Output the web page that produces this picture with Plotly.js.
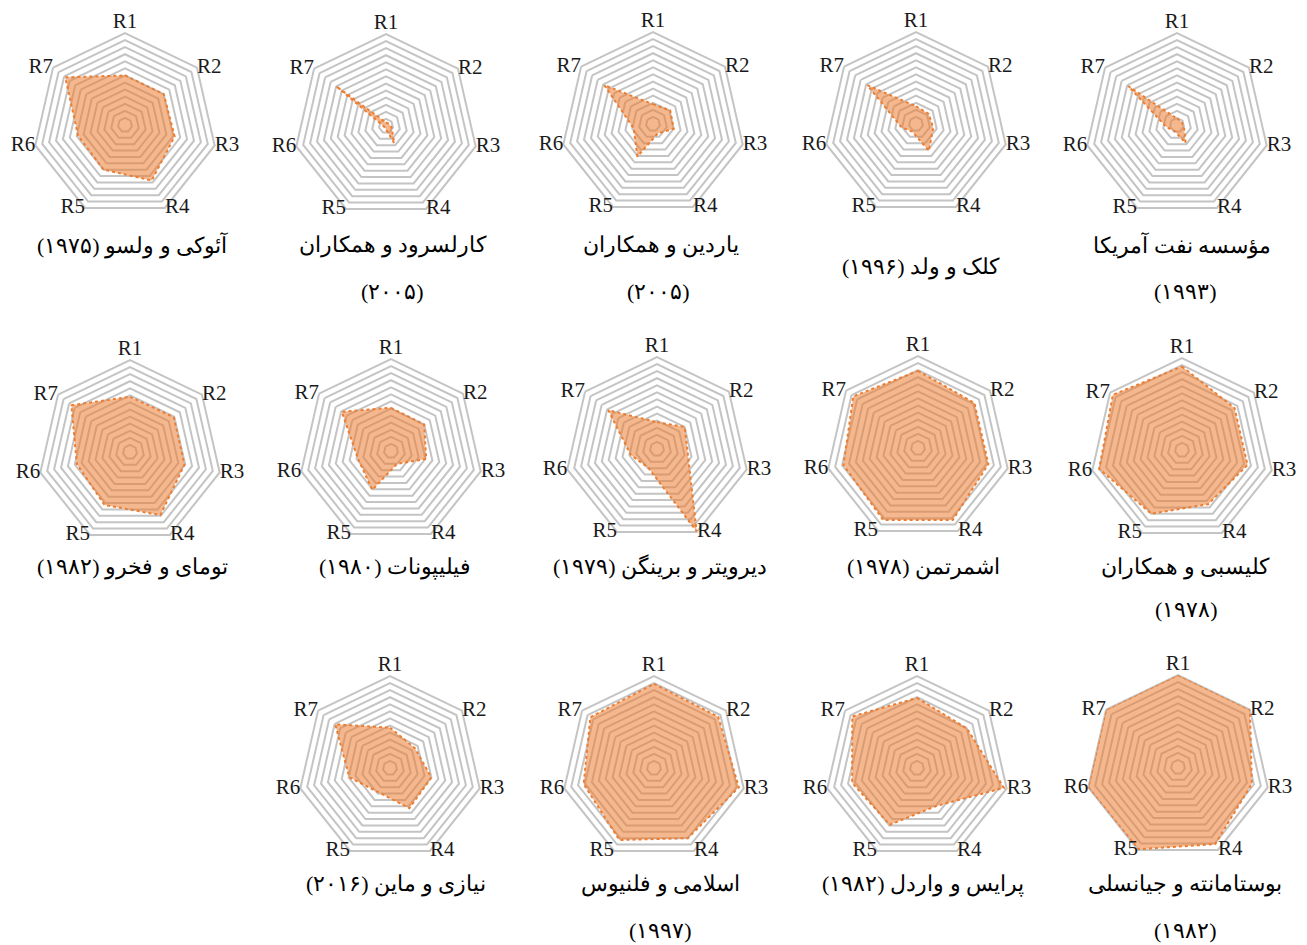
<!DOCTYPE html>
<html>
<head>
<meta charset="utf-8">
<script src="https://cdn.plot.ly/plotly-3.0.1.min.js"></script>
<style>html,body{margin:0;padding:0;background:#fff;}#chart{width:1307px;height:945px;}</style>
</head>
<body>
<div id="chart"></div>
<script>
// ---- data ----
const axesLabels = ['R1','R2','R3','R4','R5','R6','R7'];

const aoki       = [7.0, 7.0, 7.2, 8.7, 7.0, 6.8, 10.8];
const karlsrud   = [0.5, 0.5, 0.8, 2.7, 0.3, 0.3, 9.0];
const yardin     = [2.8, 3.1, 3.0, 1.5, 5.1, 2.8, 8.8];
const kalk       = [2.5, 2.3, 2.5, 4.2, 1.2, 2.1, 8.8];
const api        = [0.9, 0.8, 1.0, 2.8, 0.9, 1.5, 8.8];
const tomai      = [7.8, 7.9, 7.9, 9.9, 8.3, 7.7, 10.6];
const filip      = [6.1, 6.0, 5.1, 2.0, 6.1, 4.8, 8.9];
const deruyter   = [3.8, 5.0, 4.5, 12.9, 2.9, 3.8, 8.8];
const schmert    = [10.9, 10.2, 10.2, 11.3, 11.3, 10.8, 11.7];
const clisby     = [11.8, 9.5, 9.5, 8.5, 10.0, 12.0, 12.5];
const niazi      = [5.7, 4.5, 6.0, 6.3, 3.8, 5.9, 9.9];
const eslami     = [11.9, 11.6, 12.3, 11.0, 11.3, 10.2, 11.5];
const price      = [9.9, 9.0, 12.6, 6.0, 8.9, 9.4, 11.7];
const bustamante = [13.0, 13.0, 10.7, 12.1, 12.9, 13.0, 13.0];

const seriesList = [aoki, karlsrud, yardin, kalk, api,
                    tomai, filip, deruyter, schmert, clisby,
                    niazi, eslami, price, bustamante];

const titleLines = [
  ['آئوکی و ولسو (۱۹۷۵)'],
  ['کارلسرود و همکاران', '(۲۰۰۵)'],
  ['یاردین و همکاران', '(۲۰۰۵)'],
  ['کلک و ولد (۱۹۹۶)'],
  ['مؤسسه نفت آمریکا', '(۱۹۹۳)'],
  ['تومای و فخرو (۱۹۸۲)'],
  ['فیلیپونات (۱۹۸۰)'],
  ['دیرویتر و برینگن (۱۹۷۹)'],
  ['اشمرتمن (۱۹۷۸)'],
  ['کلیسبی و همکاران', '(۱۹۷۸)'],
  ['نیازی و ماین (۲۰۱۶)'],
  ['اسلامی و فلنیوس', '(۱۹۹۷)'],
  ['پرایس و واردل (۱۹۸۲)'],
  ['بوستامانته و جیانسلی', '(۱۹۸۲)']
];
const ringVals = [1,2,3,4,5,6,7,8,9,10,11,12,13];
const axisMax = 13;

// ---- layout geometry (pixels) ----
const W = 1307, H = 945, RAD = 92;
const centers = [
  [125,125],[386,126],[653,124],[916,124],[1177,125],
  [130,452],[391,451],[657,449],[918,448],[1182,450],
  [390,768],[654,768],[917,768],[1178,767]
];
const titlePos = [
  [[132,245]],
  [[393,245],[392,291]],
  [[661,245],[658,291]],
  [[921,267]],
  [[1182,245],[1185,291]],
  [[132,567]],
  [[395,567]],
  [[660,567]],
  [[923,567]],
  [[1185,567],[1186,609]],
  [[396,884]],
  [[660,884],[660,930]],
  [[923,884]],
  [[1185,884],[1185,930]]
];
const labelPositions = ['top center','middle right','middle right','middle right',
                        'middle left','middle left','middle left'];

const traces = [];
const layout = {
  width: W, height: H,
  margin: {l:0, r:0, t:0, b:0},
  paper_bgcolor: '#fff',
  showlegend: false,
  annotations: []
};

seriesList.forEach((vals, i) => {
  const key = i === 0 ? 'polar' : 'polar' + (i + 1);
  traces.push({
    type: 'scatterpolar',
    r: vals.concat([vals[0]]),
    theta: axesLabels.concat([axesLabels[0]]),
    subplot: key,
    mode: 'lines',
    fill: 'toself',
    fillcolor: 'rgba(237,125,49,0.55)',
    line: {color: '#ed7d31', width: 2, dash: 'dot'},
    hoverinfo: 'skip'
  });
  traces.push({
    type: 'scatterpolar',
    r: axesLabels.map(() => axisMax),
    theta: axesLabels,
    text: axesLabels,
    subplot: key,
    mode: 'text',
    textposition: labelPositions,
    textfont: {family: 'Liberation Serif, Times New Roman, serif', size: 21, color: '#1a1a1a'},
    cliponaxis: false,
    hoverinfo: 'skip'
  });
  const [cx, cy] = centers[i];
  layout[key] = {
    domain: {
      x: [(cx - RAD) / W, (cx + RAD) / W],
      y: [1 - (cy + RAD) / H, 1 - (cy - RAD) / H]
    },
    gridshape: 'linear',
    bgcolor: 'rgba(0,0,0,0)',
    radialaxis: {
      range: [0, axisMax],
      tickvals: ringVals,
      showticklabels: false,
      ticks: '',
      showline: false,
      gridcolor: '#c4c4c4',
      gridwidth: 2,
      layer: 'below traces'
    },
    angularaxis: {
      type: 'category',
      categoryarray: axesLabels,
      direction: 'clockwise',
      rotation: 90,
      showgrid: false,
      showline: true,
      linecolor: '#c4c4c4',
      linewidth: 2,
      ticks: '',
      showticklabels: false,
      layer: 'below traces'
    }
  };
  titleLines[i].forEach((txt, j) => {
    const [tx, ty] = titlePos[i][j];
    layout.annotations.push({
      xref: 'paper', yref: 'paper',
      x: tx / W, y: 1 - ty / H,
      xanchor: 'center', yanchor: 'middle',
      showarrow: false,
      text: '\u200F' + txt + '\u200F',
      font: {family: 'Liberation Serif, Times New Roman, DejaVu Serif, serif', size: 22, color: '#000'}
    });
  });
});

Plotly.newPlot('chart', traces, layout, {displayModeBar: false, staticPlot: true});
</script>
</body>
</html>
